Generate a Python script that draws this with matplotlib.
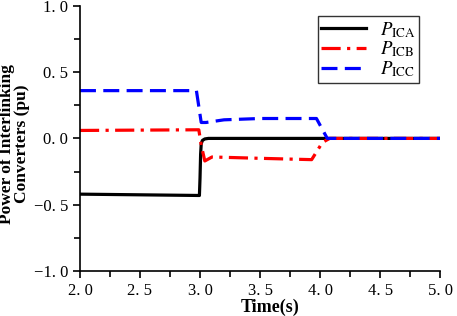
import matplotlib.pyplot as plt
from matplotlib.ticker import MultipleLocator, FuncFormatter

t_a = [2.0, 2.5, 2.995, 3.0, 3.005, 3.01, 3.02, 3.04, 3.07, 4.0, 5.0]
p_ica = [-0.42, -0.425, -0.43, -0.3, -0.12, -0.04, -0.015, -0.004, 0.0, 0.0, 0.0]

t_b = [2.0, 2.99, 3.01, 3.04, 3.1, 3.5, 3.93, 4.02, 4.08, 4.5, 5.0]
p_icb = [0.06, 0.065, -0.05, -0.17, -0.14, -0.15, -0.16, -0.03, 0.0, 0.0, 0.0]

t_c = [2.0, 2.97, 3.01, 3.05, 3.2, 3.5, 3.97, 4.06, 4.5, 5.0]
p_icc = [0.36, 0.36, 0.12, 0.12, 0.14, 0.15, 0.15, 0.0, 0.0, 0.0]

labels = [r'$P_{\mathrm{ICA}}$', r'$P_{\mathrm{ICB}}$', r'$P_{\mathrm{ICC}}$']

plt.rcParams['font.family'] = ['Liberation Serif', 'DejaVu Serif']
plt.rcParams['mathtext.fontset'] = 'stix'

fig = plt.figure(figsize=(4.57, 3.16), dpi=100)
ax = fig.add_axes([0.175, 0.142, 0.788, 0.84])

ax.plot(t_a, p_ica, color='black', lw=2.3, label=labels[0])
ax.plot(t_b, p_icb, color='red', lw=2.3, dashes=(6, 2, 1, 2), label=labels[1])
ax.plot(t_c, p_icc, color='blue', lw=2.3, dashes=(5, 2.3), label=labels[2])

ax.set_xlim(2.0, 5.0)
ax.set_ylim(-1.0, 1.0)
ax.spines['top'].set_visible(False)
ax.spines['right'].set_visible(False)
ax.spines['left'].set_linewidth(1.2)
ax.spines['bottom'].set_linewidth(1.2)

ax.xaxis.set_major_locator(MultipleLocator(0.5))
ax.xaxis.set_minor_locator(MultipleLocator(0.25))
ax.yaxis.set_major_locator(MultipleLocator(0.5))
ax.yaxis.set_minor_locator(MultipleLocator(0.25))

fmt = FuncFormatter(lambda v, p: ('%.1f' % v).replace('.', '. ').replace('-', '\u2212'))
ax.xaxis.set_major_formatter(fmt)
ax.yaxis.set_major_formatter(fmt)
ax.tick_params(which='both', direction='out', width=1.2, labelsize=12)
ax.tick_params(which='major', length=5)
ax.tick_params(which='minor', length=4)

ax.set_xlabel('Time(s)', fontweight='bold', fontsize=13, labelpad=0)
ax.xaxis.set_label_coords(0.528, -0.103)
ax.set_ylabel('Power of Interlinking\nConverters (pu)', fontweight='bold', fontsize=12.5,
              linespacing=0.85)
ax.yaxis.set_label_coords(-0.14, 0.478)

leg = ax.legend(loc='upper right', bbox_to_anchor=(0.942, 0.96), fontsize=13.5,
                frameon=True, fancybox=False, edgecolor='black', handlelength=2.4,
                borderpad=0.2, labelspacing=0.0, handletextpad=0.7, borderaxespad=0)
leg.get_frame().set_linewidth(1.0)

fig.savefig('out.png', dpi=100)
